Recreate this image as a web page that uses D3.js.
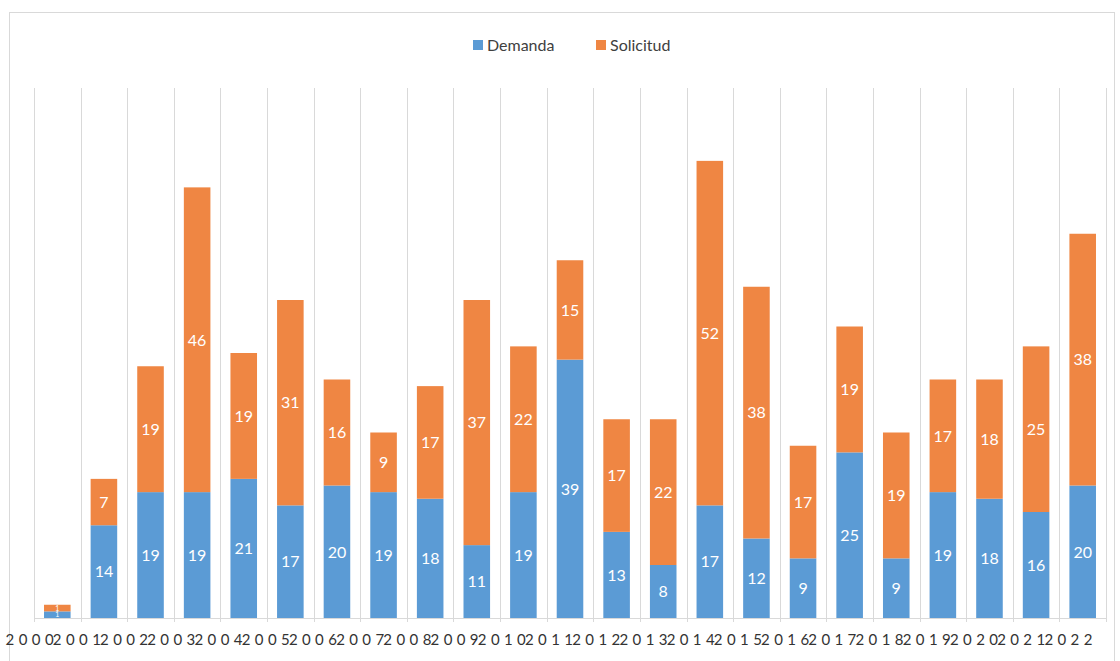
<!DOCTYPE html>
<html>
<head>
<meta charset="utf-8">
<script src="https://cdn.jsdelivr.net/npm/d3@7"></script>
<style>
  html, body { margin: 0; padding: 0; background: #fff; }
  svg { display: block; font-family: Lato, "Open Sans", "Liberation Sans", sans-serif; }
</style>
</head>
<body>
<svg id="chart" width="1120" height="661"></svg>
<script>
const years = ["2000","2001","2002","2003","2004","2005","2006","2007","2008","2009","2010","2011","2012","2013","2014","2015","2016","2017","2018","2019","2020","2021","2022"];
const demanda   = [1,14,19,19,21,17,20,19,18,11,19,39,13,8,17,12,9,25,9,19,18,16,20];
const solicitud = [1,7,19,46,19,31,16,9,17,37,22,15,17,22,52,38,17,19,19,17,18,25,38];
const seriesNames = ["Demanda","Solicitud"];
const seriesColors = ["#5B9BD5","#EF8643"];

const svg = d3.select("#chart");

// chart frame
svg.append("rect").attr("x", 9.5).attr("y", 12.5).attr("width", 1105).attr("height", 660)
  .attr("fill", "#fff").attr("stroke", "#d9d9d9").attr("stroke-width", 1);

const x = d3.scaleBand().domain(years).range([34, 1106]).paddingInner(0.43).paddingOuter(0.215);
const y = d3.scaleLinear().domain([0, 80]).range([618, 88]);

// vertical gridlines at category boundaries
const step = x.step();
const bounds = d3.range(years.length + 1).map(i => x.range()[0] + i * step);
svg.append("g").selectAll("line").data(bounds).join("line")
  .attr("x1", d => Math.round(d) + 0.5).attr("x2", d => Math.round(d) + 0.5)
  .attr("y1", y(80)).attr("y2", y(0) + 4)
  .attr("stroke", "#d9d9d9").attr("stroke-width", 1);

// baseline
svg.append("line").attr("x1", bounds[0]).attr("x2", bounds[bounds.length - 1])
  .attr("y1", y(0) + 0.5).attr("y2", y(0) + 0.5).attr("stroke", "#d9d9d9");

const rows = years.map((yr, i) => ({ year: yr, Demanda: demanda[i], Solicitud: solicitud[i] }));
const stack = d3.stack().keys(seriesNames)(rows);

const layers = svg.append("g").selectAll("g").data(stack).join("g")
  .attr("fill", (d, i) => seriesColors[i]);

layers.selectAll("rect").data(d => d).join("rect")
  .attr("x", d => x(d.data.year))
  .attr("width", x.bandwidth())
  .attr("y", d => y(d[1]))
  .attr("height", d => y(d[0]) - y(d[1]));

// data labels
const labels = svg.append("g").attr("fill", "#fff").attr("text-anchor", "middle");
stack.forEach(layer => {
  layer.forEach(d => {
    const v = d[1] - d[0];
    const small = (y(d[0]) - y(d[1])) < 14;
    labels.append("text")
      .attr("x", x(d.data.year) + x.bandwidth() / 2)
      .attr("y", (y(d[0]) + y(d[1])) / 2)
      .attr("dy", "0.36em")
      .attr("font-size", small ? 7 : 16)
      .text(v);
  });
});

// x-axis labels (spread characters like the original)
const ls = 4.4;
const xLab = d3.scaleBand().domain(years).range([6, 1092]);
const axis = svg.append("g").attr("transform", `translate(0,${640})`)
  .call(d3.axisBottom(xLab).tickSize(0).tickPadding(0));
axis.select(".domain").remove();
axis.selectAll("text")
  .attr("font-size", 15)
  .attr("font-family", "Lato, 'Open Sans', sans-serif")
  .attr("fill", "#333333")
  .attr("dy", "0.35em")
  .attr("dx", ls / 2)
  .style("letter-spacing", ls + "px");

// legend
const legend = svg.append("g").attr("transform", "translate(0,45)");
const legendX = [473, 596];
seriesNames.forEach((name, i) => {
  legend.append("rect").attr("x", legendX[i]).attr("y", -5).attr("width", 10).attr("height", 10)
    .attr("fill", seriesColors[i]);
  legend.append("text").attr("x", legendX[i] + 14).attr("y", 0).attr("dy", "0.35em")
    .attr("font-size", 16).attr("fill", "#404040").text(name);
});
</script>
</body>
</html>
